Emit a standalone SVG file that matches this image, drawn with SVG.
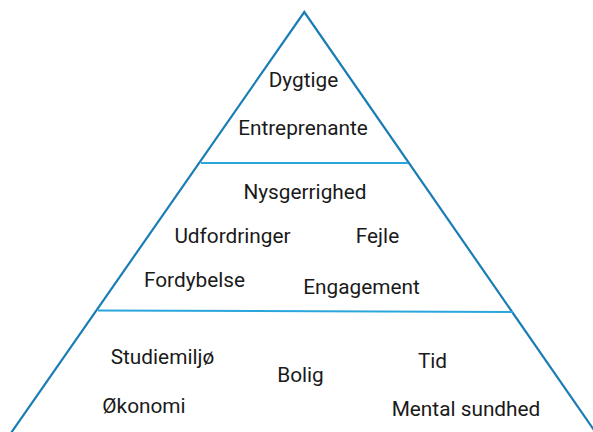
<svg xmlns="http://www.w3.org/2000/svg" width="593" height="432" viewBox="0 0 593 432">
<style>
.edge{fill:none;stroke:#1a7db4;stroke-width:2.2;stroke-linejoin:miter}
.div{fill:none;stroke:#2aa6dc;stroke-width:2}
text{font-family:Roboto,"Liberation Sans",sans-serif;font-size:20.8px;fill:#1a1a1a;text-anchor:middle}
</style>
<rect width="593" height="432" fill="#ffffff"/>
<g id="connectors">
<path class="edge" d="M11,433 L304.3,12 L596,433"/>
<line class="div" x1="201" y1="163" x2="408" y2="163"/>
<line class="div" x1="98" y1="310.5" x2="513" y2="312"/>
</g>
<g id="top">
<text x="303.5" y="87">Dygtige</text>
<text x="303" y="135">Entreprenante</text>
</g>
<g id="middle">
<text x="305" y="199">Nysgerrighed</text>
<text x="232.5" y="243">Udfordringer</text>
<text x="377.5" y="243">Fejle</text>
<text x="194.5" y="287">Fordybelse</text>
<text x="361.5" y="294">Engagement</text>
</g>
<g id="bottom">
<text x="162.5" y="364">Studiemiljø</text>
<text x="300.5" y="382">Bolig</text>
<text x="432.5" y="368">Tid</text>
<text x="144" y="413">Økonomi</text>
<text x="466" y="416">Mental sundhed</text>
</g>
</svg>
